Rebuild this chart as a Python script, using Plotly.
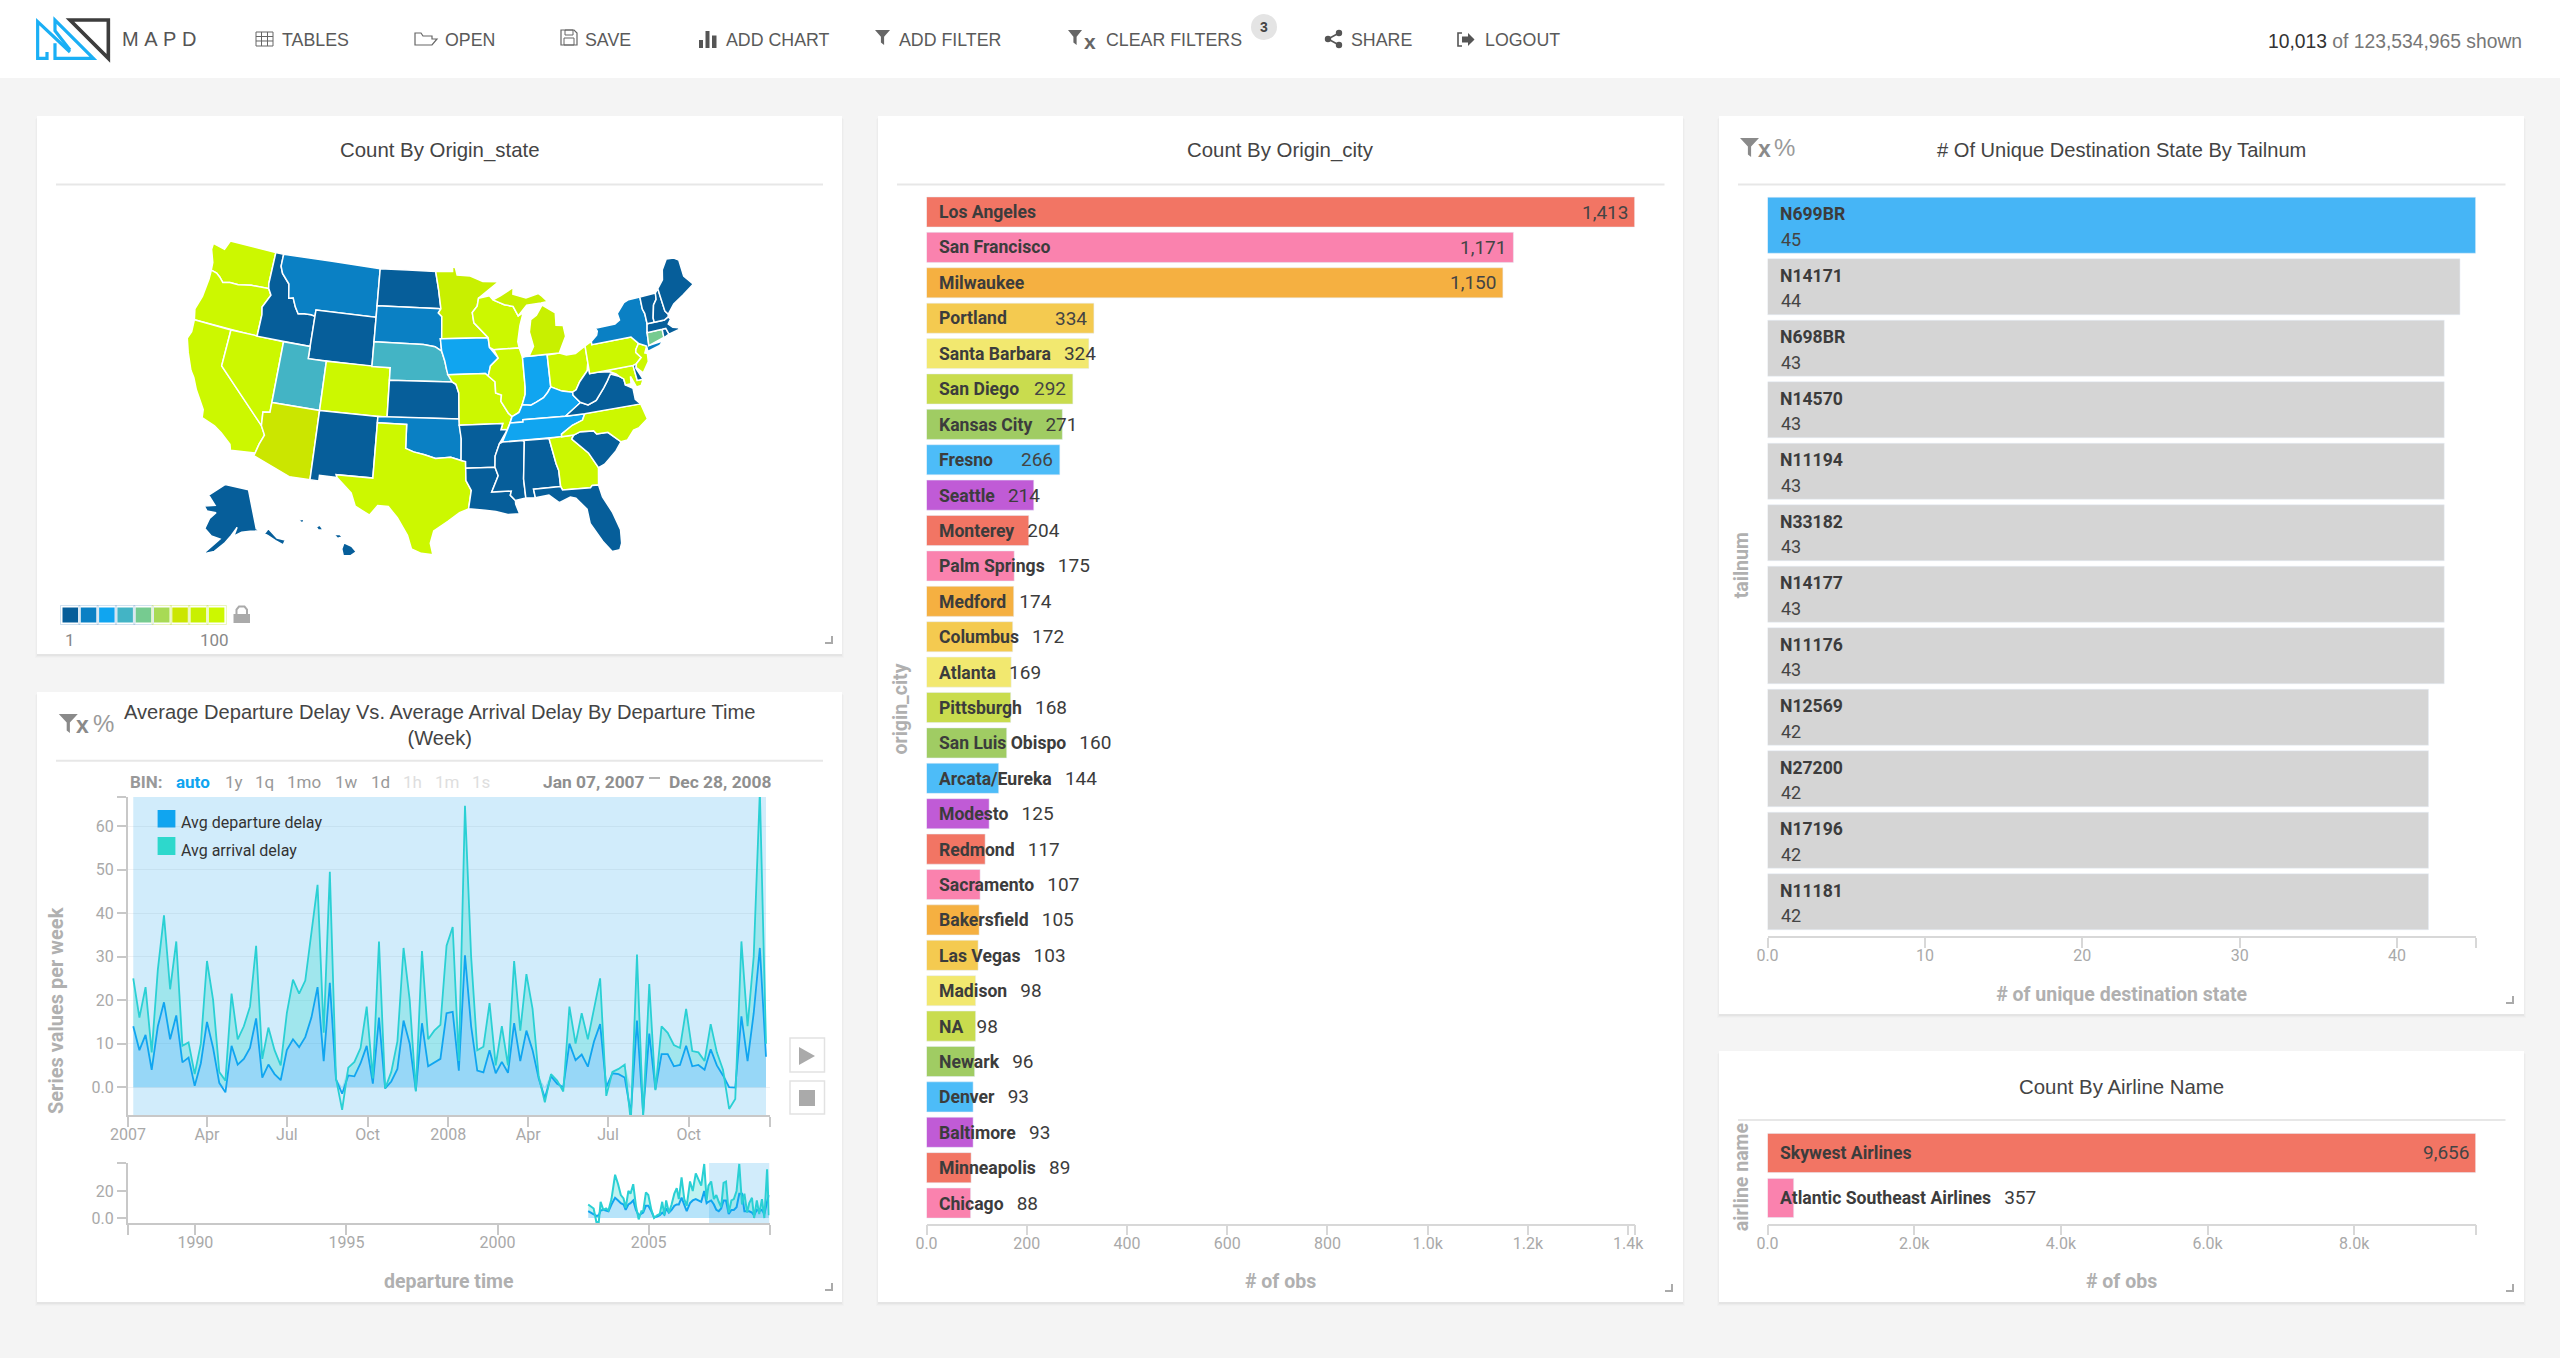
import numpy as np
import pandas as pd
import plotly.graph_objects as go

W, H = 2560, 1358

# ---------------- data ----------------
CITY_NAMES = ["Los Angeles", "San Francisco", "Milwaukee", "Portland", "Santa Barbara", "San Diego",
              "Kansas City", "Fresno", "Seattle", "Monterey", "Palm Springs", "Medford", "Columbus",
              "Atlanta", "Pittsburgh", "San Luis Obispo", "Arcata/Eureka", "Modesto", "Redmond",
              "Sacramento", "Bakersfield", "Las Vegas", "Madison", "NA", "Newark", "Denver",
              "Baltimore", "Minneapolis", "Chicago"]
CITY_COUNTS = [1413, 1171, 1150, 334, 324, 292, 271, 266, 214, 204, 175, 174, 172, 169, 168, 160,
               144, 125, 117, 107, 105, 103, 98, 98, 96, 93, 93, 89, 88]
BAR_CYCLE = ["#f27564", "#fa82ae", "#f5b041", "#f4ca50", "#f2e86f", "#c9dc4e", "#a0cc63", "#4dbcf8", "#c05bd6"]

TAIL_NAMES = ["N699BR", "N14171", "N698BR", "N14570", "N11194", "N33182", "N14177", "N11176",
              "N12569", "N27200", "N17196", "N11181"]
TAIL_COUNTS = [45, 44, 43, 43, 43, 43, 43, 43, 42, 42, 42, 42]

AIRLINE_NAMES = ["Skywest Airlines", "Atlantic Southeast Airlines"]
AIRLINE_COUNTS = [9656, 357]

WEEK_DEP = [14, 8.5, 12, 4, 14, 19.5, 11, 16.5, 5.7, 6.8, 0.3, 5.5, 15, 9, 1, -1.2, 9.5, 5.2, 6.5, 9,
            15.8, 2.2, 5.2, 3, 1.6, 8.5, 11, 9.2, 11.5, 16, 23, 6, 24, 1.8, -1.5, 2.7, 2.5, 5.5, 9.5, 0.8,
            16, -0.3, 1.3, 4.2, 15.3, 10, -0.8, 14.7, 4.8, 5.7, 6.5, 17, 17.3, 3.8, 30.3, 14, 3.8, 3.4, 8.5, 3.2,
            5.8, 3.3, 14.7, 6, 13, 8.5, 2, -2.5, 2.5, 0.8, 0, 10, 6.2, 7.5, 4.7, 10.5, 14.5, 0, 3.2, 3,
            2.2, -6, 15.3, -6, 12.3, -0.5, 7.6, 7.6, 4.8, 5.1, 9.5, 4.8, 5.1, 4, 8.7, 5, 2.7, 0, -0.1, 16.3,
            6, 17, 32, 7]
WEEK_ARR = [25, 16, 23, 8, 27, 39.5, 22.5, 33.5, 9.5, 10.3, 3, 10, 29, 20, 3.5, 1.5, 21.5, 11, 14, 18.5,
            32.5, 6.5, 13.7, 8.5, 5, 17, 24.7, 21.5, 24.5, 36, 46.5, 12.5, 49.5, 2, -5.2, 4.5, 5.8, 9, 18.5, 2,
            33.5, -0.3, 3.5, 10.5, 32, 20, -1, 31.3, 11, 13, 14.3, 32.5, 36.8, 6, 64.7, 30, 8.5, 9.3, 19.3, 5,
            14, 5, 29, 13, 26, 18, 2.5, -3.5, 3, 1.5, -1, 18.5, 10, 17, 11, 18, 25, -2, 3.5, 4.2,
            5.2, -8, 30.5, -7, 23.7, -0.7, 14, 12.5, 9.7, 9, 18, 8.3, 8, 6, 14.5, 8, 4, -5, -2.7, 33.5,
            14, 30, 68, 10]

RANGE_YEAR = [2003.0, 2003.09, 2003.18, 2003.27, 2003.35, 2003.41, 2003.5, 2003.59, 2003.67, 2003.77,
              2003.89, 2003.99, 2004.08, 2004.17, 2004.24, 2004.33, 2004.4, 2004.49, 2004.58, 2004.67,
              2004.76, 2004.82, 2004.91, 2004.99, 2005.09, 2005.18, 2005.28, 2005.37, 2005.45, 2005.52,
              2005.58, 2005.67, 2005.76, 2005.85, 2005.93, 2006.0, 2006.09, 2006.18, 2006.26, 2006.37,
              2006.46, 2006.56, 2006.65, 2006.74, 2006.84, 2006.92, 2006.98, 2007.07, 2007.16, 2007.24,
              2007.32, 2007.4, 2007.48, 2007.56, 2007.65, 2007.74, 2007.82, 2007.91, 2008.0, 2008.09,
              2008.17, 2008.26, 2008.33, 2008.42, 2008.49, 2008.58, 2008.66, 2008.75, 2008.83, 2008.92, 2008.98]
RANGE_ARR = [10, 8.5, 7, -3, -3, 12, 6, 7, 5.5, 14, 32, 25, 17, 14.5, 7.5, 20, 18, 25, 9, -1,
             5, 5, 19, 17, 6, 0, 2, 3, 12, 2, 13, 4, 10, 18, 22, 14, 30, 14, 9, 27,
             20, 33, 29, 24, 40, 13, 24, 27, 14, 17, 12, 8, 26, 27, 4, 13, 14, 20, 40, 10,
             18, 4, 11, 15, 0, 13, 3, 14, 0, 36, 2]
RANGE_DEP = [5, 4, 2.5, 1.5, 2, 5.5, 6, 5.5, 5, 10, 15, 13, 11, 10, 6, 10, 11, 13, 6, 2,
             3, 4, 9, 9, 5, 0.5, 1, 2, 4, 2.5, 7, 4, 6, 9, 10, 10, 15, 9, 5, 11,
             13, 14, 13, 12, 20, 11, 12, 13, 10, 6, 5, 7, 13, 13, 3, 6, 6, 8, 18, 18,
             5, 5, 5, 4, 2, 6, 5, 6, 3, 12, 17]

PALETTE = ["#065e9a", "#0a80c4", "#10a5f0", "#43b4c5", "#76cb90", "#a8da55", "#cbe600", "#c8f000", "#ccf800"]
STATE_BIN = {"ID": 0, "WY": 0, "ND": 0, "KS": 0, "NM": 0, "AR": 0, "LA": 0, "MS": 0, "AL": 0, "FL": 0, "SC": 0,
             "VA": 0, "WV": 0, "ME": 0, "NH": 0, "VT": 0, "MA": 0, "AK": 0, "HI": 0, "DE": 0, "RI": 0,
             "MT": 1, "SD": 1, "OK": 1, "NY": 1, "IA": 2, "IN": 2, "KY": 2, "TN": 2, "UT": 3, "NE": 3, "CT": 4,
             "AZ": 6, "MN": 7, "MI": 7, "WA": 8, "OR": 8, "CA": 8, "NV": 8, "CO": 8, "TX": 8, "MO": 8, "WI": 8,
             "IL": 8, "OH": 8, "PA": 8, "NJ": 8, "MD": 8, "GA": 8, "NC": 8}
# state outlines, (lon, lat) rings; None splits a state into separate rings
STATE_RINGS = {
 "WA": [(-124.7,48.4),(-123.2,48.2),(-122.8,49.0),(-117.03,49.0),(-117.04,46.4),(-116.92,45.99),(-119.0,45.93),(-120.5,45.7),(-121.5,45.7),(-122.3,45.55),(-122.8,45.9),(-123.3,46.15),(-124.0,46.25),(-124.1,46.9),(-124.7,47.9)],
 "OR": [(-124.0,46.25),(-123.3,46.15),(-122.8,45.9),(-122.3,45.55),(-121.5,45.7),(-120.5,45.7),(-119.0,45.93),(-116.92,45.99),(-116.5,45.5),(-117.2,44.4),(-117.03,43.8),(-117.03,42.0),(-124.2,42.0),(-124.5,42.85),(-124.1,44.0),(-123.95,45.5)],
 "CA": [(-124.2,42.0),(-120.0,42.0),(-120.0,39.0),(-114.63,35.0),(-114.15,34.3),(-114.5,33.5),(-114.72,32.72),(-117.12,32.53),(-117.3,33.0),(-118.4,33.75),(-119.2,34.15),(-120.6,34.55),(-120.7,35.2),(-121.9,36.6),(-122.5,37.5),(-123.0,38.0),(-123.8,39.3),(-124.35,40.4),(-124.1,41.0)],
 "NV": [(-120,42),(-114.04,42),(-114.04,36.2),(-114.75,36.1),(-114.63,35),(-120,39)],
 "ID": [(-117.03,49),(-116.05,49),(-116.05,48),(-115.7,47.45),(-114.7,46.7),(-114.4,45.55),(-113.9,45.65),(-113.45,44.95),(-113.0,44.45),(-112.3,44.55),(-111.5,44.55),(-111.05,44.48),(-111.05,42),(-117.03,42),(-117.03,43.8),(-117.2,44.4),(-116.5,45.5),(-116.92,45.99),(-117.04,46.4)],
 "MT": [(-116.05,49),(-104.05,49),(-104.05,45),(-111.05,45),(-111.05,44.48),(-111.5,44.55),(-112.3,44.55),(-113,44.45),(-113.45,44.95),(-113.9,45.65),(-114.4,45.55),(-114.7,46.7),(-115.7,47.45),(-116.05,48)],
 "WY": [(-111.05,45),(-104.05,45),(-104.05,41),(-111.05,41)],
 "UT": [(-114.04,42),(-111.05,42),(-111.05,41),(-109.05,41),(-109.05,37),(-114.04,37)],
 "CO": [(-109.05,41),(-102.05,41),(-102.05,37),(-109.05,37)],
 "AZ": [(-114.04,37),(-109.05,37),(-109.05,31.33),(-111.07,31.33),(-114.8,32.5),(-114.72,32.72),(-114.5,33.5),(-114.15,34.3),(-114.63,35),(-114.75,36.1),(-114.04,36.2)],
 "NM": [(-109.05,37),(-103,37),(-103.05,32),(-106.6,32),(-106.5,31.78),(-108.2,31.78),(-108.2,31.33),(-109.05,31.33)],
 "ND": [(-104.05,49),(-97.23,49),(-96.85,47.5),(-96.56,45.94),(-104.05,45.94)],
 "SD": [(-104.05,45.94),(-96.56,45.94),(-96.85,45.6),(-96.45,45.3),(-96.45,43.5),(-96.6,43.5),(-96.45,42.5),(-97.2,42.85),(-98.5,43.0),(-104.05,43)],
 "NE": [(-104.05,43),(-98.5,43),(-97.2,42.85),(-96.45,42.5),(-96.1,41.7),(-95.9,41),(-95.31,40),(-102.05,40),(-102.05,41),(-104.05,41)],
 "KS": [(-102.05,40),(-95.31,40),(-94.9,39.8),(-94.61,39.1),(-94.62,37),(-102.05,37)],
 "OK": [(-103,37),(-94.62,37),(-94.43,35.4),(-94.48,33.64),(-95.5,33.9),(-97,33.8),(-98.1,34.1),(-99.2,34.3),(-100,34.56),(-100,36.5),(-103,36.5)],
 "TX": [(-106.6,32),(-103.05,32),(-103,36.5),(-100,36.5),(-100,34.56),(-99.2,34.3),(-98.1,34.1),(-97,33.8),(-95.5,33.9),(-94.48,33.64),(-94.04,33.55),(-94.04,32),(-93.55,31.2),(-93.85,29.7),(-94.7,29.4),(-95.8,28.7),(-97.1,27.9),(-97.4,26.9),(-97.15,25.95),(-98.2,26.05),(-99.1,26.4),(-99.5,27.5),(-100.5,28.9),(-101.4,29.77),(-102.4,29.8),(-103.1,28.98),(-104.5,29.6),(-105,30.65),(-106.5,31.78)],
 "MN": [(-97.23,49),(-95.15,49),(-95.15,49.38),(-94.8,49.3),(-94.6,48.7),(-93,48.6),(-91.5,48.1),(-89.6,48),(-92.1,46.75),(-92.3,46.1),(-92.9,45.6),(-92.75,44.75),(-91.2,43.5),(-96.45,43.5),(-96.45,45.3),(-96.85,45.6),(-96.56,45.94),(-96.85,47.5)],
 "IA": [(-96.45,43.5),(-91.2,43.5),(-91.1,42.7),(-90.2,41.8),(-91.1,41.2),(-91.4,40.4),(-91.7,40.6),(-95.77,40.58),(-95.9,41),(-96.1,41.7),(-96.45,42.5),(-96.6,43.5)],
 "MO": [(-95.77,40.58),(-91.7,40.6),(-91.4,40.4),(-90.7,39.9),(-90.7,39.0),(-90.1,38.8),(-90.2,38.3),(-89.5,37.3),(-89.15,37.0),(-89.4,36.5),(-89.7,36),(-90.37,36),(-90.15,36.5),(-94.62,36.5),(-94.62,37),(-94.61,39.1),(-94.9,39.8),(-95.31,40)],
 "AR": [(-94.62,36.5),(-90.15,36.5),(-90.37,36),(-89.7,36),(-90.6,34.9),(-91.1,33.9),(-91.17,33),(-94.04,33),(-94.04,33.55),(-94.48,33.64),(-94.43,35.4)],
 "LA": [(-94.04,33),(-91.17,33),(-90.9,32.3),(-91.6,31),(-89.73,31),(-89.85,30.65),(-89.4,30.2),(-89.4,29.9),(-89.1,29.1),(-90.2,29.1),(-91.3,29.4),(-92.3,29.55),(-93.85,29.7),(-93.55,31.2),(-94.04,32)],
 "WI": [(-92.1,46.75),(-90.8,46.9),(-90.4,46.55),(-89.1,46.1),(-88.1,45.9),(-87.6,45.1),(-87.0,45.3),(-87.5,44.3),(-87.9,43.0),(-87.8,42.5),(-90.65,42.5),(-91.1,42.7),(-91.2,43.5),(-92.75,44.75),(-92.9,45.6),(-92.3,46.1)],
 "IL": [(-90.65,42.5),(-87.8,42.5),(-87.53,41.7),(-87.53,39.3),(-87.6,38.7),(-88.0,37.9),(-88.4,37.3),(-89.15,37.0),(-89.5,37.3),(-90.2,38.3),(-90.1,38.8),(-90.7,39.0),(-90.7,39.9),(-91.4,40.4),(-91.1,41.2),(-90.2,41.8)],
 "IN": [(-87.53,41.7),(-87.2,41.75),(-86.8,41.76),(-84.8,41.76),(-84.82,39.1),(-85.2,38.7),(-85.7,38.3),(-86.5,38.0),(-87.1,37.8),(-88.0,37.9),(-87.6,38.7),(-87.53,39.3)],
 "OH": [(-84.8,41.7),(-83.45,41.73),(-82.7,41.5),(-81.7,41.5),(-80.52,42.0),(-80.52,40.64),(-80.7,40.0),(-81.7,39.2),(-82.2,38.6),(-82.6,38.45),(-83.7,38.65),(-84.82,39.1)],
 "KY": [(-89.4,36.5),(-88.07,36.5),(-88.05,36.68),(-83.68,36.6),(-82.0,37.5),(-81.97,37.55),(-82.6,38.2),(-82.6,38.45),(-83.7,38.65),(-84.82,39.1),(-85.2,38.7),(-85.7,38.3),(-86.5,38),(-87.1,37.8),(-88,37.9),(-88.4,37.3),(-89.15,37)],
 "TN": [(-89.7,36),(-89.4,36.5),(-88.07,36.5),(-88.05,36.68),(-83.68,36.6),(-81.68,36.59),(-82.0,36.1),(-83.1,35.8),(-84.3,35.2),(-84.32,34.99),(-90.3,35.0)],
 "MS": [(-90.3,35),(-88.2,35),(-88.1,34.9),(-88.47,31.9),(-88.4,30.35),(-89.4,30.2),(-89.85,30.65),(-89.73,31),(-91.6,31),(-90.9,32.3),(-91.17,33),(-91.1,33.9),(-90.6,34.9)],
 "AL": [(-88.2,35),(-85.6,34.98),(-85.18,32.87),(-85.0,32.3),(-85.0,31),(-87.6,31),(-87.5,30.3),(-88.4,30.35),(-88.47,31.9),(-88.1,34.9)],
 "GA": [(-85.6,34.98),(-83.1,35),(-83.35,34.7),(-81.9,33.4),(-81.15,32.1),(-81.4,30.7),(-82.0,30.75),(-82.2,30.57),(-84.86,30.7),(-85,31),(-85,32.3),(-85.18,32.87)],
 "FL": [(-87.6,31),(-85,31),(-84.86,30.7),(-82.2,30.57),(-82,30.75),(-81.4,30.7),(-81.2,29.7),(-80.5,28.3),(-80.05,26.8),(-80.15,25.7),(-80.4,25.2),(-81.1,25.15),(-81.8,26.1),(-82.7,27.7),(-82.8,28.9),(-83.7,29.9),(-84.2,30.05),(-85.3,29.7),(-86.2,30.4),(-87.5,30.3)],
 "SC": [(-83.35,34.7),(-83.1,35),(-82.4,35.2),(-81.05,35.1),(-80.8,34.82),(-79.67,34.8),(-78.55,33.86),(-79.2,33.2),(-80.5,32.3),(-81.15,32.1),(-81.9,33.4)],
 "NC": [(-84.32,34.99),(-83.1,35),(-82.4,35.2),(-81.05,35.1),(-80.8,34.82),(-79.67,34.8),(-78.55,33.86),(-77.9,33.9),(-77.1,34.6),(-76.5,34.7),(-75.5,35.25),(-75.85,36.55),(-81.68,36.59),(-82,36.1),(-83.1,35.8),(-84.3,35.2)],
 "VA": [(-83.68,36.6),(-81.68,36.59),(-75.85,36.55),(-76.3,37),(-76.3,37.9),(-77,38.3),(-77.05,38.8),(-77.5,39.1),(-78.35,39.4),(-78.8,38.9),(-79.3,38.4),(-80.3,37.5),(-81.2,37.25),(-81.97,37.55),(-82.0,37.5)],
 "WV": [(-82.6,38.2),(-81.97,37.55),(-81.2,37.25),(-80.3,37.5),(-79.3,38.4),(-78.8,38.9),(-78.35,39.4),(-77.75,39.32),(-78.4,39.62),(-79.48,39.72),(-80.52,39.72),(-80.52,40.64),(-80.7,40),(-81.7,39.2),(-82.2,38.6),(-82.6,38.45)],
 "MD": [(-79.48,39.72),(-75.79,39.72),(-75.69,38.46),(-75.05,38.45),(-75.4,38.0),(-75.9,37.95),(-76.3,38.9),(-76.4,38.3),(-77,38.3),(-77.05,38.8),(-77.5,39.1),(-77.75,39.32),(-78.4,39.62)],
 "DE": [(-75.79,39.72),(-75.4,39.8),(-75.55,39.45),(-75.05,38.45),(-75.69,38.46)],
 "PA": [(-80.52,42),(-79.76,42.27),(-79.76,42),(-75.35,42),(-74.7,41.36),(-75.1,40.95),(-75.2,40.7),(-74.75,40.2),(-75.4,39.8),(-75.79,39.72),(-80.52,39.72)],
 "NJ": [(-75.1,40.95),(-74.7,41.36),(-73.9,41.0),(-74.25,40.5),(-74.0,40.4),(-74.1,39.75),(-74.9,38.95),(-75.5,39.5),(-75.4,39.8),(-74.75,40.2),(-75.2,40.7)],
 "NY": [(-79.76,42.27),(-79.05,42.7),(-78.9,43.0),(-79.05,43.27),(-76.8,43.3),(-76.2,43.55),(-76.3,44.1),(-75.3,44.85),(-74.7,45.0),(-73.35,45.0),(-73.4,44.0),(-73.25,43.6),(-73.27,42.75),(-73.5,42.05),(-73.65,41.0),(-72,41.1),(-72.5,40.8),(-73.9,40.55),(-73.9,41),(-74.7,41.36),(-75.35,42),(-79.76,42)],
 "CT": [(-73.5,42.05),(-71.8,42.02),(-71.8,41.35),(-73.65,41.0)],
 "RI": [(-71.8,42.02),(-71.38,42.02),(-71.2,41.5),(-71.85,41.32)],
 "MA": [(-73.5,42.05),(-73.27,42.75),(-71.3,42.7),(-70.8,42.87),(-70.6,42.65),(-71.0,42.3),(-70.6,41.95),(-70.0,41.8),(-70,41.65),(-71.2,41.5),(-71.38,42.02),(-71.8,42.02)],
 "VT": [(-73.35,45.0),(-71.5,45.01),(-71.6,44.5),(-72.05,44.1),(-72.45,43.1),(-72.46,42.73),(-73.27,42.75),(-73.25,43.6),(-73.4,44)],
 "NH": [(-71.5,45.01),(-71.1,45.3),(-70.98,43.4),(-70.7,43.07),(-70.8,42.87),(-71.3,42.7),(-72.46,42.73),(-72.45,43.1),(-72.05,44.1),(-71.6,44.5)],
 "ME": [(-71.1,45.3),(-70.3,45.9),(-70.0,46.7),(-69.2,47.45),(-68.3,47.35),(-67.8,47.07),(-67.8,45.7),(-67.0,44.85),(-68.5,44.25),(-69.8,43.75),(-70.7,43.07),(-70.98,43.4)],
 "MI": [(-86.8,41.76),(-84.8,41.76),(-83.45,41.73),(-83.1,42.2),(-82.5,43.0),(-82.6,43.9),(-83.4,44),(-83.3,45.0),(-84.7,45.78),(-85.5,45),(-86.2,44.7),(-86.5,43.7),(-86.2,42.5), None,
        (-90.4,46.55),(-89.5,46.85),(-87.9,47.45),(-88,46.9),(-86.5,46.5),(-85.0,46.75),(-84.6,46.5),(-84,46.0),(-84.8,45.95),(-86.5,45.9),(-87.6,45.1),(-88.1,45.9),(-89.1,46.1)],
 "AK": [(-141,69.6),(-141,60.3),(-137.5,58.9),(-135.5,59.7),(-133,57),(-130,55.9),(-131.5,55),(-134,56.5),(-136.5,58.1),(-140,59.7),(-144,60),(-148,60),(-151.8,59.2),(-150,61.2),(-153,59.3),(-156,57.5),(-160,55.5),(-164.5,54.6),(-158,58.5),(-162,59),(-165.5,60.5),(-164,63),(-161,64.5),(-166,64.6),(-168,65.6),(-162,66.2),(-166.7,68.3),(-156.5,71.3)],
 "HI": [(-156.05,19.75),(-155.85,20.25),(-155.2,19.95),(-154.8,19.5),(-155.65,18.95),(-155.9,19.1), None,
        (-158.25,21.55),(-157.95,21.7),(-157.65,21.3),(-158.1,21.3), None,
        (-156.7,20.9),(-156.25,20.95),(-156,20.75),(-156.4,20.6), None,
        (-159.75,22.1),(-159.4,22.2),(-159.35,21.95),(-159.6,21.9)],
}

TOP_MENU = ["TABLES", "OPEN", "SAVE", "ADD CHART", "ADD FILTER", "CLEAR FILTERS", "SHARE", "LOGOUT"]
BIN_LABELS = ["auto", "1y", "1q", "1mo", "1w", "1d", "1h", "1m", "1s"]

# ---------------- helpers ----------------
HELV = "Liberation Sans"
ROB = "Roboto"
TICK = "#a9a9a9"


def px(x):
    return x / W


def py(y):
    return 1 - y / H


def xdom(a, b):
    return [a / W, b / W]


def ydom(top, bot):
    return [1 - bot / H, 1 - top / H]


shapes, annos = [], []


def path(points, close=False, fill=None, color=None, width=1.0, layer="below"):
    d = "M " + " L ".join(f"{px(a):.5f} {py(b):.5f}" for a, b in points)
    if close:
        d += " Z"
    shapes.append(dict(type="path", path=d, xref="paper", yref="paper", layer=layer,
                       fillcolor=fill or "rgba(0,0,0,0)",
                       line=dict(color=color or "rgba(0,0,0,0)", width=width)))


def rect(x0, y0, x1, y1, fill=None, color=None, width=0, kind="rect"):
    shapes.append(dict(type=kind, xref="paper", yref="paper", layer="below",
                       x0=px(x0), x1=px(x1), y0=py(y0), y1=py(y1),
                       fillcolor=fill or "rgba(0,0,0,0)",
                       line=dict(color=color or "rgba(0,0,0,0)", width=width)))


def text(x, y, s, size=16, color="#555", anchor="left", family=ROB, angle=0):
    annos.append(dict(x=px(x), y=py(y), xref="paper", yref="paper", text=s, showarrow=False,
                      xanchor=anchor, yanchor="middle", textangle=angle, align="center",
                      font=dict(size=size, color=color, family=family)))


def funnel(x0, x1, y0, y1, color="#666"):
    m = (x0 + x1) / 2
    n = y0 + (y1 - y0) * 0.45
    path([(x0, y0), (x1, y0), (m + 1.6, n), (m + 1.6, y1), (m - 1.6, y1 - 2.5), (m - 1.6, n)], True, fill=color)


def panel(x0, y0, x1, y1):
    for d, a in ((3, 0.012), (2, 0.02), (1, 0.03)):
        rect(x0 - d + 1, y0 + d, x1 + d - 1, y1 + d + 1, fill=f"rgba(0,0,0,{a})")
    rect(x0, y0, x1, y1, fill="#ffffff")


def divider(x0, x1, y):
    path([(x0, y), (x1, y)], color="#e7e7e7", width=2)


def handle(x, y):
    path([(x - 7, y), (x, y), (x, y - 7)], color="#aaaaaa", width=2)


# ---------------- page furniture ----------------
rect(0, 0, W, H, fill="#f4f4f4")
rect(0, 0, W, 78, fill="#ffffff")

# logo
def lg(zx, zy):
    return (25 + zx / 3, 10 + zy / 3)


BLUE = "#1aaff5"
path([lg(66, 126), lg(66, 145), lg(38, 145), lg(38, 35), lg(135, 126)], color=BLUE, width=3.2)
path([lg(90, 100), lg(90, 145), lg(205, 145), lg(90, 30), lg(90, 62), lg(135, 120)], color=BLUE, width=3.2)
path([lg(135, 30), lg(250, 30), lg(250, 145)], True, color="#3d3d3d", width=3.6)
text(120, 39, "M\u00a0A\u00a0P\u00a0D", 20, "#555", family=HELV)

menu_x = [280, 442.5, 583, 724, 897, 1104, 1349, 1483]
for name, x in zip(TOP_MENU, menu_x):
    text(x, 39.5, name, 17.8, "#5a5a5a", family=HELV)

# tables icon
rect(256, 32, 273, 46, color="#666", width=1)
for a in (261.5, 267.5):
    path([(a, 32), (a, 46)], color="#666", width=1)
for b in (36.5, 41):
    path([(256, b), (273, b)], color="#666", width=1)
# open icon
path([(415, 45), (415, 33), (421, 33), (423, 36), (432, 36), (432, 39), (437, 39), (432, 45)], True, color="#666", width=1.2)
# save icon
path([(561, 30), (574, 30), (577, 33), (577, 45), (561, 45)], True, color="#666", width=1.2)
rect(565, 30, 573, 35, color="#666", width=1)
rect(564, 38, 574, 45, color="#666", width=1)
# chart icon
rect(699, 40, 703, 48, fill="#555")
rect(705.5, 31, 709.5, 48, fill="#555")
rect(712, 35.5, 716.5, 48, fill="#555")
funnel(875, 890, 30, 45)
funnel(1068, 1082, 30, 45)
text(1090, 41, "<b>x</b>", 21, "#666", "center", HELV)
rect(1251, 14, 1277, 40, fill="#e4e4e4", kind="circle")
text(1264, 27, "<b>3</b>", 14, "#444", "center", HELV)
# share icon
for cx, cy in ((1328, 39), (1339, 33), (1339, 45)):
    rect(cx - 3.2, cy - 3.2, cx + 3.2, cy + 3.2, fill="#555", kind="circle")
path([(1339, 33), (1328, 39), (1339, 45)], color="#555", width=1.6)
# logout icon
path([(1462, 33), (1458, 33), (1458, 46), (1462, 46)], color="#555", width=1.6)
path([(1462, 36.5), (1468, 36.5), (1468, 33), (1474.5, 39.5), (1468, 46), (1468, 42.5), (1462, 42.5)], True, fill="#555")

text(2524, 41, "<span style='color:#333'>10,013</span> of 123,534,965 shown", 19.3, "#777", "right", HELV)

# panels
panel(37, 116, 842, 654)
panel(37, 692, 842, 1302)
panel(878, 116, 1683, 1302)
panel(1719, 116, 2524, 1014)
panel(1719, 1051, 2524, 1302)
divider(56, 823, 184.5)
divider(56, 823, 760.7)
divider(897, 1664.5, 184.5)
divider(1738, 2505.5, 184.5)
divider(1738, 2505.5, 1120)
handle(832, 643)
handle(832, 1290)
handle(1672, 1291)
handle(2513, 1003)
handle(2513, 1291)

TITLE = "#444"
text(439.5, 150.5, "Count By Origin_state", 20.4, TITLE, "center", HELV)
text(439.5, 725, "Average Departure Delay Vs. Average Arrival Delay By Departure Time<br>(Week)", 20.1, TITLE, "center", HELV)
text(1280.6, 150.5, "Count By Origin_city", 20.4, TITLE, "center", HELV)
text(2121.6, 150, "# Of Unique Destination State By Tailnum", 20.1, TITLE, "center", HELV)
text(2121.6, 1086.5, "Count By Airline Name", 20.4, TITLE, "center", HELV)


def filter_icons(x, y):
    funnel(x, x + 19, y, y + 19, color="#8a8a8a")
    text(x + 24, y + 11, "<b>x</b>", 23, "#8a8a8a", "center", HELV)
    text(x + 32, y + 9, "%", 24, "#9a9a9a", "left", HELV)


filter_icons(58.8, 714)
filter_icons(1740, 138)

# ---------------- map ----------------
traces = []


def cw(ring):
    a = sum(ring[i][0] * ring[(i + 1) % len(ring)][1] - ring[(i + 1) % len(ring)][0] * ring[i][1] for i in range(len(ring)))
    return ring if a < 0 else ring[::-1]


for st, pts in STATE_RINGS.items():
    rings, cur = [], []
    for p in pts:
        if p is None:
            rings.append(cur)
            cur = []
        else:
            cur.append(p)
    rings.append(cur)
    lon, lat = [], []
    for r in rings:
        r = cw(r)
        r = r + [r[0]]
        lon += [q[0] for q in r] + [None]
        lat += [q[1] for q in r] + [None]
    traces.append(go.Scattergeo(lon=lon[:-1], lat=lat[:-1], mode="lines", fill="toself",
                                fillcolor=PALETTE[STATE_BIN[st]], line=dict(color="#ffffff", width=1.5),
                                hoverinfo="skip", showlegend=False, geo="geo", name=st))

for i, c in enumerate(PALETTE):
    x = 62.5 + 18.3 * i
    rect(x, 607.5, x + 15.5, 622.5, fill=c)
    rect(x - 2, 605.5, x + 17.5, 624.5, color="rgba(120,170,210,0.35)" if i < 5 else "rgba(200,230,80,0.4)", width=1)
text(70, 640, "1", 17, "#888", "center")
text(214.6, 640, "100", 17, "#888", "center")
rect(233.5, 614, 250, 623, fill="#aaaaaa")
path([(236.5, 614), (236.5, 609.5), (239, 606.5), (244.5, 606.5), (247, 609.5), (247, 614)], color="#aaaaaa", width=2)

# ---------------- time series ----------------
WEEKS = pd.date_range("2007-01-07", periods=len(WEEK_DEP), freq="7D")
dep = np.array(WEEK_DEP, float)
arr = np.array(WEEK_ARR, float)
DEP_C, ARR_C = "#10a5f0", "#2ad0d4"
DEP_F, ARR_F = "rgba(16,165,240,0.30)", "rgba(45,216,205,0.30)"


def ts_traces(xv, d, a, xa, ya, lw):
    d0, a0 = np.maximum(d, 0), np.maximum(a, 0)
    kw = dict(xaxis=xa, yaxis=ya, hoverinfo="skip", showlegend=False)
    return [
        go.Scatter(x=xv, y=d0, mode="none", fill="tozeroy", fillcolor=DEP_F, **kw),
        go.Scatter(x=xv, y=a0, mode="none", fill="tonexty", fillcolor=ARR_F, **kw),
        go.Scatter(x=xv, y=d, mode="lines", line=dict(color=DEP_C, width=lw), name="Avg departure delay", **kw),
        go.Scatter(x=xv, y=a, mode="lines", line=dict(color=ARR_C, width=lw), name="Avg arrival delay", **kw),
    ]


traces += ts_traces(WEEKS, dep, arr, "x", "y", 1.8)
traces += ts_traces(RANGE_YEAR, np.array(RANGE_DEP, float), np.array(RANGE_ARR, float), "x2", "y2", 2)

shapes.append(dict(type="rect", xref="x", yref="paper", layer="below", x0=WEEKS[0], x1=WEEKS[-1],
                   y0=py(1115), y1=py(797), fillcolor="#d1ecfb", line=dict(width=0)))
shapes.append(dict(type="rect", xref="x2", yref="paper", layer="below", x0=2007.0, x1=2009.0,
                   y0=py(1223), y1=py(1163), fillcolor="#d1ecfb", line=dict(width=0)))

# legend
rect(157.6, 810, 175.4, 827.5, fill="#10a5f0")
rect(157.6, 837, 175.4, 855, fill="#2dd8cc")
text(179, 823, "Avg departure delay", 16, "#333")
text(179, 850, "Avg arrival delay", 16, "#333")

# bin row
text(128, 781.7, "<b>BIN:</b>", 17, "#999")
bin_x = [174, 222.5, 252.8, 285, 333.3, 369, 401, 433, 470]
for i, (lab, x) in enumerate(zip(BIN_LABELS, bin_x)):
    if i == 0:
        text(x, 781.7, f"<b>{lab}</b>", 17, "#10a5f0")
    else:
        text(x, 781.7, lab, 17, "#999" if i < 6 else "#dedede")
text(541, 781.7, "<b>Jan 07, 2007</b>", 17.4, "#8f8f8f")
path([(649, 778), (660, 778)], color="#999", width=1.5)
text(667, 781.7, "<b>Dec 28, 2008</b>", 17.4, "#8f8f8f")

text(56, 1011, "<b>Series values per week</b>", 20, "#b0b0b0", "center", angle=-90)

# playback buttons
for y0, y1 in ((1038, 1072), (1081, 1114)):
    shapes.append(dict(type="rect", xref="paper", yref="paper", layer="below", x0=px(790), x1=px(824.5), y0=py(y0), y1=py(y1),
                       fillcolor="#ffffff", line=dict(color="#e2e2e2", width=1.5)))
path([(799, 1047), (815, 1056), (799, 1065)], True, fill="#aaaaaa")
rect(799, 1090, 815, 1106, fill="#aaaaaa")

# ---------------- bars ----------------
NAME_CH = 8.8
NAME_F, VAL_F = 17.6, 19


def bar_labels(names, counts, xa, ya, scale, name_up=0, value_up=None):
    for n, v in zip(names, counts):
        val = f"{v:,}"
        common = dict(xref=xa, yref=ya, y=n, showarrow=False, yanchor="middle")
        if value_up is not None:
            annos.append(dict(x=0, xshift=10.5, yshift=name_up, text=f"<b>{n}</b>", xanchor="left",
                              font=dict(size=NAME_F, color="#3c3c3c", family=ROB), **common))
            annos.append(dict(x=0, xshift=11.5, yshift=value_up, text=val, xanchor="left",
                              font=dict(size=VAL_F - 1, color="#444", family=ROB), **common))
            continue
        need = 12 + len(n) * NAME_CH + 12 + 8.5 * len(val)
        if need <= v * scale:
            annos.append(dict(x=0, xshift=10.5, text=f"<b>{n}</b>", xanchor="left",
                              font=dict(size=NAME_F, color="#3c3c3c", family=ROB), **common))
            annos.append(dict(x=v, xshift=-5, text=val, xanchor="right",
                              font=dict(size=VAL_F, color="#444", family=ROB), **common))
        else:
            annos.append(dict(x=0, xshift=10.5, text=f"<b>{n}</b>\u00a0\u00a0\u00a0<span style='font-size:{VAL_F}px'>{val}</span>", xanchor="left",
                              font=dict(size=NAME_F, color="#3c3c3c", family=ROB), **common))


def colors_cycle(n):
    return [BAR_CYCLE[i % len(BAR_CYCLE)] for i in range(n)]


traces.append(go.Bar(y=CITY_NAMES, x=CITY_COUNTS, orientation="h", width=0.85, xaxis="x3", yaxis="y3",
                     marker=dict(color=colors_cycle(len(CITY_NAMES))), hoverinfo="skip", showlegend=False))
traces.append(go.Bar(y=TAIL_NAMES, x=TAIL_COUNTS, orientation="h", width=0.91, xaxis="x4", yaxis="y4",
                     marker=dict(color=["#46b5f6"] + ["#d5d5d5"] * (len(TAIL_NAMES) - 1)), hoverinfo="skip", showlegend=False))
traces.append(go.Bar(y=AIRLINE_NAMES, x=AIRLINE_COUNTS, orientation="h", width=0.87, xaxis="x5", yaxis="y5",
                     marker=dict(color=BAR_CYCLE[:2]), hoverinfo="skip", showlegend=False))

bar_labels(CITY_NAMES, CITY_COUNTS, "x3", "y3", 708.2 / 1413)
bar_labels(TAIL_NAMES, TAIL_COUNTS, "x4", "y4", 708.2 / 45, name_up=11, value_up=-14)
bar_labels(AIRLINE_NAMES, AIRLINE_COUNTS, "x5", "y5", 708.2 / 9656)

LINE = "#d8d8d8"
tickf = dict(size=16, color=TICK, family=ROB)
titlef = dict(size=19.5, color="#b0b0b0", family=ROB)
TICK_PULL = -6


def val_axis(dom, ya, rng, vals, labs, title, standoff):
    return dict(domain=dom, anchor=ya, range=rng, tickmode="array", tickvals=vals, ticktext=labs, automargin=False,
                ticks="outside", ticklen=10, tickcolor=LINE, tickwidth=1.5, showline=True, linecolor=LINE, linewidth=1.5,
                ticklabelstandoff=TICK_PULL,
                showgrid=False, zeroline=False, tickfont=tickf, fixedrange=True,
                title=dict(text=f"<b>{title}</b>", font=titlef, standoff=standoff))


def cat_axis(dom, xa, rng, title, standoff):
    return dict(domain=dom, anchor=xa, range=rng, type="category", showticklabels=False, ticks="", automargin=False,
                showline=False, showgrid=False, zeroline=False, fixedrange=True,
                title=dict(text=f"<b>{title}</b>", font=titlef, standoff=standoff))


layout = dict(
    width=W, height=H, margin=dict(l=0, r=0, t=0, b=0, pad=0, autoexpand=False), paper_bgcolor="#f4f4f4", plot_bgcolor="rgba(0,0,0,0)",
    autosize=False, showlegend=False, barmode="overlay",
    geo=dict(domain=dict(x=xdom(140, 740), y=ydom(228, 568)), scope="usa", projection=dict(type="albers usa", scale=1.065),
             showland=False, showlakes=False, showocean=False, showrivers=False, showcountries=False,
             showcoastlines=False, showsubunits=False, showframe=False, bgcolor="rgba(0,0,0,0)"),
    xaxis=dict(domain=xdom(128, 769.5), anchor="y", type="date", range=["2007-01-01", "2009-01-01"],
               tickmode="array", automargin=False, ticklabelstandoff=TICK_PULL,
               tickvals=["2007-01-01", "2007-04-01", "2007-07-01", "2007-10-01", "2008-01-01", "2008-04-01", "2008-07-01", "2008-10-01", "2009-01-01"],
               ticktext=["2007", "Apr", "Jul", "Oct", "2008", "Apr", "Jul", "Oct", ""],
               ticks="outside", ticklen=10, tickcolor="#c8c8c8", tickwidth=1.5, showline=True, linecolor="#c8c8c8", linewidth=2,
               showgrid=False, zeroline=False, tickfont=tickf, fixedrange=True),
    yaxis=dict(domain=ydom(797, 1115), anchor="x", range=[-6.4, 66.7], tickmode="array", automargin=False,
               tickvals=[0, 10, 20, 30, 40, 50, 60, 66.7], ticktext=["0.0", "10", "20", "30", "40", "50", "60", ""],
               ticks="outside", ticklen=9, tickcolor="#c8c8c8", tickwidth=1.5, showline=True, linecolor="#c8c8c8", linewidth=2,
               gridcolor="rgba(110,130,150,0.10)", showgrid=True, zeroline=False, tickfont=tickf, fixedrange=True),
    xaxis2=dict(domain=xdom(128, 769.5), anchor="y2", range=[1987.77, 2009.0], tickmode="array", automargin=False,
                tickvals=[1987.77, 1990, 1995, 2000, 2005, 2009.0], ticktext=["", "1990", "1995", "2000", "2005", ""],
                ticks="outside", ticklen=10, tickcolor="#c8c8c8", tickwidth=1.5, showline=True, linecolor="#c8c8c8", linewidth=2,
                ticklabelstandoff=TICK_PULL,
                showgrid=False, zeroline=False, tickfont=tickf, fixedrange=True,
                title=dict(text="<b>departure time</b>", font=titlef, standoff=23)),
    yaxis2=dict(domain=ydom(1163, 1223), anchor="x2", range=[-3.7, 40.7], tickmode="array", automargin=False,
                tickvals=[0, 20, 40.7], ticktext=["0.0", "20", ""],
                ticks="outside", ticklen=9, tickcolor="#c8c8c8", tickwidth=1.5, showline=True, linecolor="#c8c8c8", linewidth=2,
                showgrid=False, zeroline=False, tickfont=tickf, fixedrange=True),
    xaxis3=val_axis(xdom(926.5, 1634.7), "y3", [0, 1413], [0, 200, 400, 600, 800, 1000, 1200, 1400, 1413],
                    ["0.0", "200", "400", "600", "800", "1.0k", "1.2k", "1.4k", ""], "# of obs", 23),
    yaxis3=cat_axis(ydom(194.3, 1223.6), "x3", [28.58, -0.5], "origin_city", 12),
    xaxis4=val_axis(xdom(1767.5, 2475.7), "y4", [0, 45], [0, 10, 20, 30, 40, 45],
                    ["0.0", "10", "20", "30", "40", ""], "# of unique destination state", 23),
    yaxis4=cat_axis(ydom(194.5, 936), "x4", [11.557, -0.5], "tailnum", 12),
    xaxis5=val_axis(xdom(1767.5, 2475.7), "y5", [0, 9656], [0, 2000, 4000, 6000, 8000, 9656],
                    ["0.0", "2.0k", "4.0k", "6.0k", "8.0k", ""], "# of obs", 23),
    yaxis5=cat_axis(ydom(1130.5, 1223.6), "x5", [1.57, -0.5], "airline name", 12),
    shapes=shapes,
    annotations=annos,
)

fig = go.Figure(data=traces, layout=layout)
fig.write_html("out.html", config=dict(displayModeBar=False),
               post_script="document.body.style.margin='0';document.body.style.overflow='hidden';")
